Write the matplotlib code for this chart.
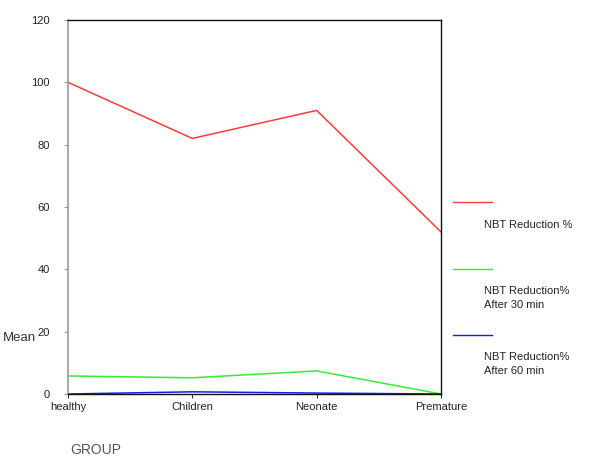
import matplotlib
matplotlib.use("Agg")
import matplotlib.pyplot as plt
from matplotlib.lines import Line2D

plt.rcParams['font.family'] = ['Liberation Sans', 'DejaVu Sans']

categories = ["healthy", "Children", "Neonate", "Premature"]
nbt_reduction = [100, 82, 91, 52]
nbt_after_30 = [5.8, 5.2, 7.4, 0]
nbt_after_60 = [0, 0.7, 0.3, 0]
series_labels = ["NBT Reduction %", "NBT Reduction%\nAfter 30 min", "NBT Reduction%\nAfter 60 min"]
series_colors = ["#ff3b3b", "#33ee33", "#1a1aee"]
yticks = [0, 20, 40, 60, 80, 100, 120]

fig = plt.figure(figsize=(5.95, 4.59), dpi=100)
ax = fig.add_axes([68/595, 1-394/459, (441-68)/595, (394-20)/459])

x = list(range(len(categories)))
for vals, col in zip([nbt_reduction, nbt_after_30, nbt_after_60], series_colors):
    ax.plot(x, vals, color=col, lw=1.1, clip_on=False)

ax.set_xlim(0, len(categories)-1)
ax.set_ylim(0, 120)
ax.set_yticks(yticks)
ax.set_yticklabels([str(t) for t in yticks], fontsize=8, color="#222222")
ax.set_xticks(x)
ax.set_xticklabels(categories, fontsize=8, color="#222222")
ax.tick_params(axis='y', length=3, color="#999999", pad=10)
ax.tick_params(axis='x', length=3, color="#333333", pad=3)
ax.spines['left'].set_color("#999999")
ax.spines['left'].set_linewidth(1.2)
for s in ['top', 'right', 'bottom']:
    ax.spines[s].set_color("#111111")
    ax.spines[s].set_linewidth(1.0)

fig.text(3/595, 1-338/459, "Mean", fontsize=9.5, color="#333333", va='center', ha='left')
fig.text(70/595, 1-450/459, "GROUP", fontsize=10, color="#555555", va='center', ha='left')

leg_y_line = [202, 269, 335]
leg_y_text = [225, 298, 364]
for yl, yt, lab, col in zip(leg_y_line, leg_y_text, series_labels, series_colors):
    fig.add_artist(Line2D([453/595, 492/595], [1-yl/459, 1-yl/459], color=col, lw=1.0))
    fig.text(484/595, 1-yt/459, lab, fontsize=8, color="#222222", va='center', ha='left', linespacing=1.4)

fig.savefig("out.png", dpi=100)
